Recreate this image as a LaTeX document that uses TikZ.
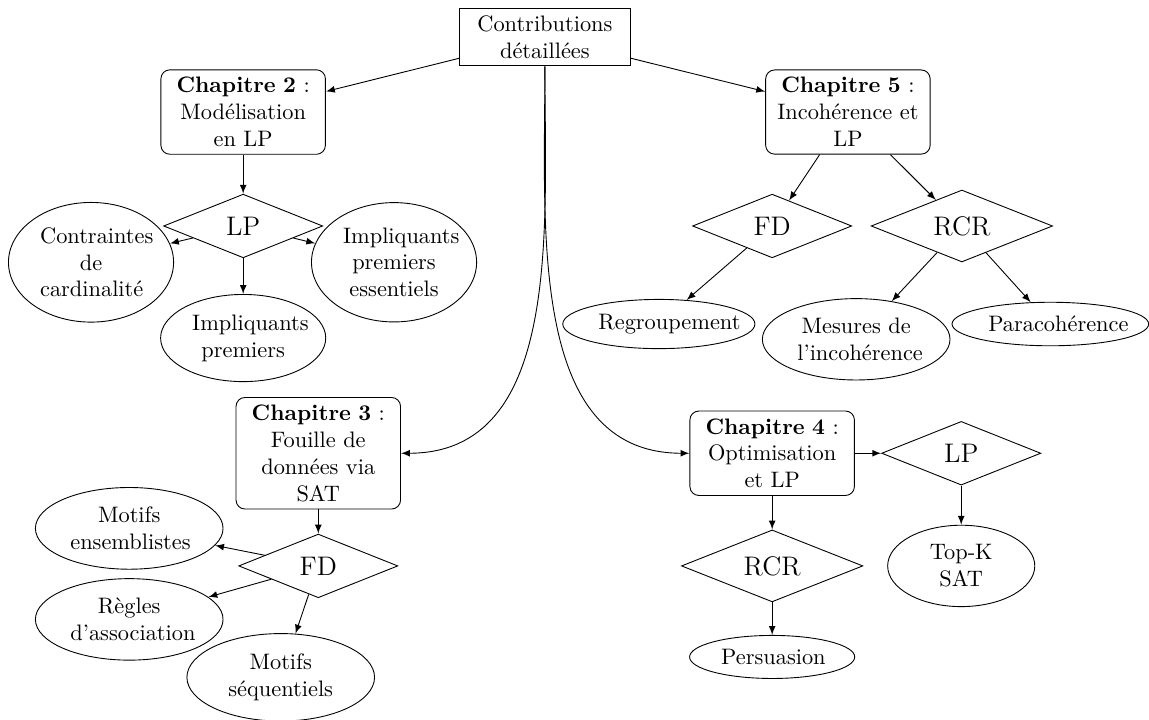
\documentclass[tikz,border=0pt]{standalone}
\usepackage{fontspec}
\usetikzlibrary{arrows.meta,positioning,shapes.geometric}

\begin{document}
\begin{tikzpicture}[
		arrow/.style={-latex},
		headbox/.style={draw, align=center, text width=2.45cm},
		chap/.style={draw, rounded corners, align=center, text width=2.35cm},
		topic/.style={diamond, draw, aspect=2.5, font=\large, minimum width=2.5cm, minimum height=1cm},
		wide/.style={minimum width=2.85cm, minimum height=1.13cm},
		leaf/.style={ellipse, draw, align=center, text width=#1},
		leaf/.default=1.85cm,
	]
		\useasboundingbox (0,0) rectangle (18.05,-11.31);

		\node[headbox] (contrib) at (8.56,-0.58) {Contributions\\détaillées};

		% chapitres
		\node[chap] (ch2) at (3.82,-1.76) {\textbf{Chapitre 2} :\\Modélisation\\en LP};
		\node[chap] (ch5) at (13.32,-1.76) {\textbf{Chapitre 5} :\\Incohérence et\\LP};
		\node[chap] (ch3) at (5.00,-7.12) {\textbf{Chapitre 3} :\\Fouille de\\données via\\SAT};
		\node[chap] (ch4) at (12.13,-7.12) {\textbf{Chapitre 4} :\\Optimisation\\et LP};

		% chapitre 2
		\node[topic] (lp2) at (ch2 |- 0,-3.55) {LP};
		\node[leaf=1.6cm] (card) at (1.43,-4.12) {Contraintes\\de\\cardinalité};
		\node[leaf=1.6cm] (ipe) at (6.19,-4.12) {Impliquants\\premiers\\essentiels};
		\node[leaf=1.6cm] (ip) at (3.82,-5.31) {Impliquants\\premiers};

		% chapitre 5
		\node[topic] (fd5) at (12.13,-3.55) {FD};
		\node[topic, wide] (rcr5) at (15.11,-3.55) {RCR};
		\node[leaf=1.9cm] (regroup) at (10.35,-5.09) {Regroupement};
		\node[leaf] (mesures) at (13.45,-5.33) {Mesures de\\l'incohérence};
		\node[leaf=1.95cm] (paracoh) at (16.50,-5.09) {Paracohérence};

		% chapitre 3
		\node[topic] (fd3) at (ch3 |- 0,-8.89) {FD};
		\node[leaf] (ens) at (2.03,-8.30) {Motifs\\ensemblistes};
		\node[leaf] (regles) at (2.03,-9.73) {Règles\\d'association};
		\node[leaf] (seq) at (4.41,-10.64) {Motifs\\séquentiels};

		% chapitre 4
		\node[topic, wide] (rcr4) at (ch4 |- 0,-8.89) {RCR};
		\node[topic] (lp4) at (15.10,-7.12) {LP};
		\node[leaf=1.4cm] (topk) at (lp4 |- rcr4) {Top-K\\SAT};
		\node[leaf=1.6cm] (persu) at (ch4 |- 0,-10.32) {Persuasion};

		\draw[arrow] (contrib) -- (ch2);
		\draw[arrow] (contrib) -- (ch5);
		\draw[arrow] (contrib.south) to[out=-90, in=0] (ch3.east);
		\draw[arrow] (contrib.south) to[out=-90, in=180] (ch4.west);

		\draw[arrow] (ch2) -- (lp2);
		\draw[arrow] (lp2) -- (card);
		\draw[arrow] (lp2) -- (ipe);
		\draw[arrow] (lp2) -- (ip);

		\draw[arrow] (ch5) -- (fd5);
		\draw[arrow] (ch5) -- (rcr5);
		\draw[arrow] (fd5) -- (regroup);
		\draw[arrow] (rcr5) -- (mesures);
		\draw[arrow] (rcr5) -- (paracoh);

		\draw[arrow] (ch3) -- (fd3);
		\draw[arrow] (fd3) -- (ens);
		\draw[arrow] (fd3) -- (regles);
		\draw[arrow] (fd3) -- (seq);

		\draw[arrow] (ch4) -- (rcr4);
		\draw[arrow] (ch4) -- (lp4);
		\draw[arrow] (lp4) -- (topk);
		\draw[arrow] (rcr4) -- (persu);
	\end{tikzpicture}
\end{document}
